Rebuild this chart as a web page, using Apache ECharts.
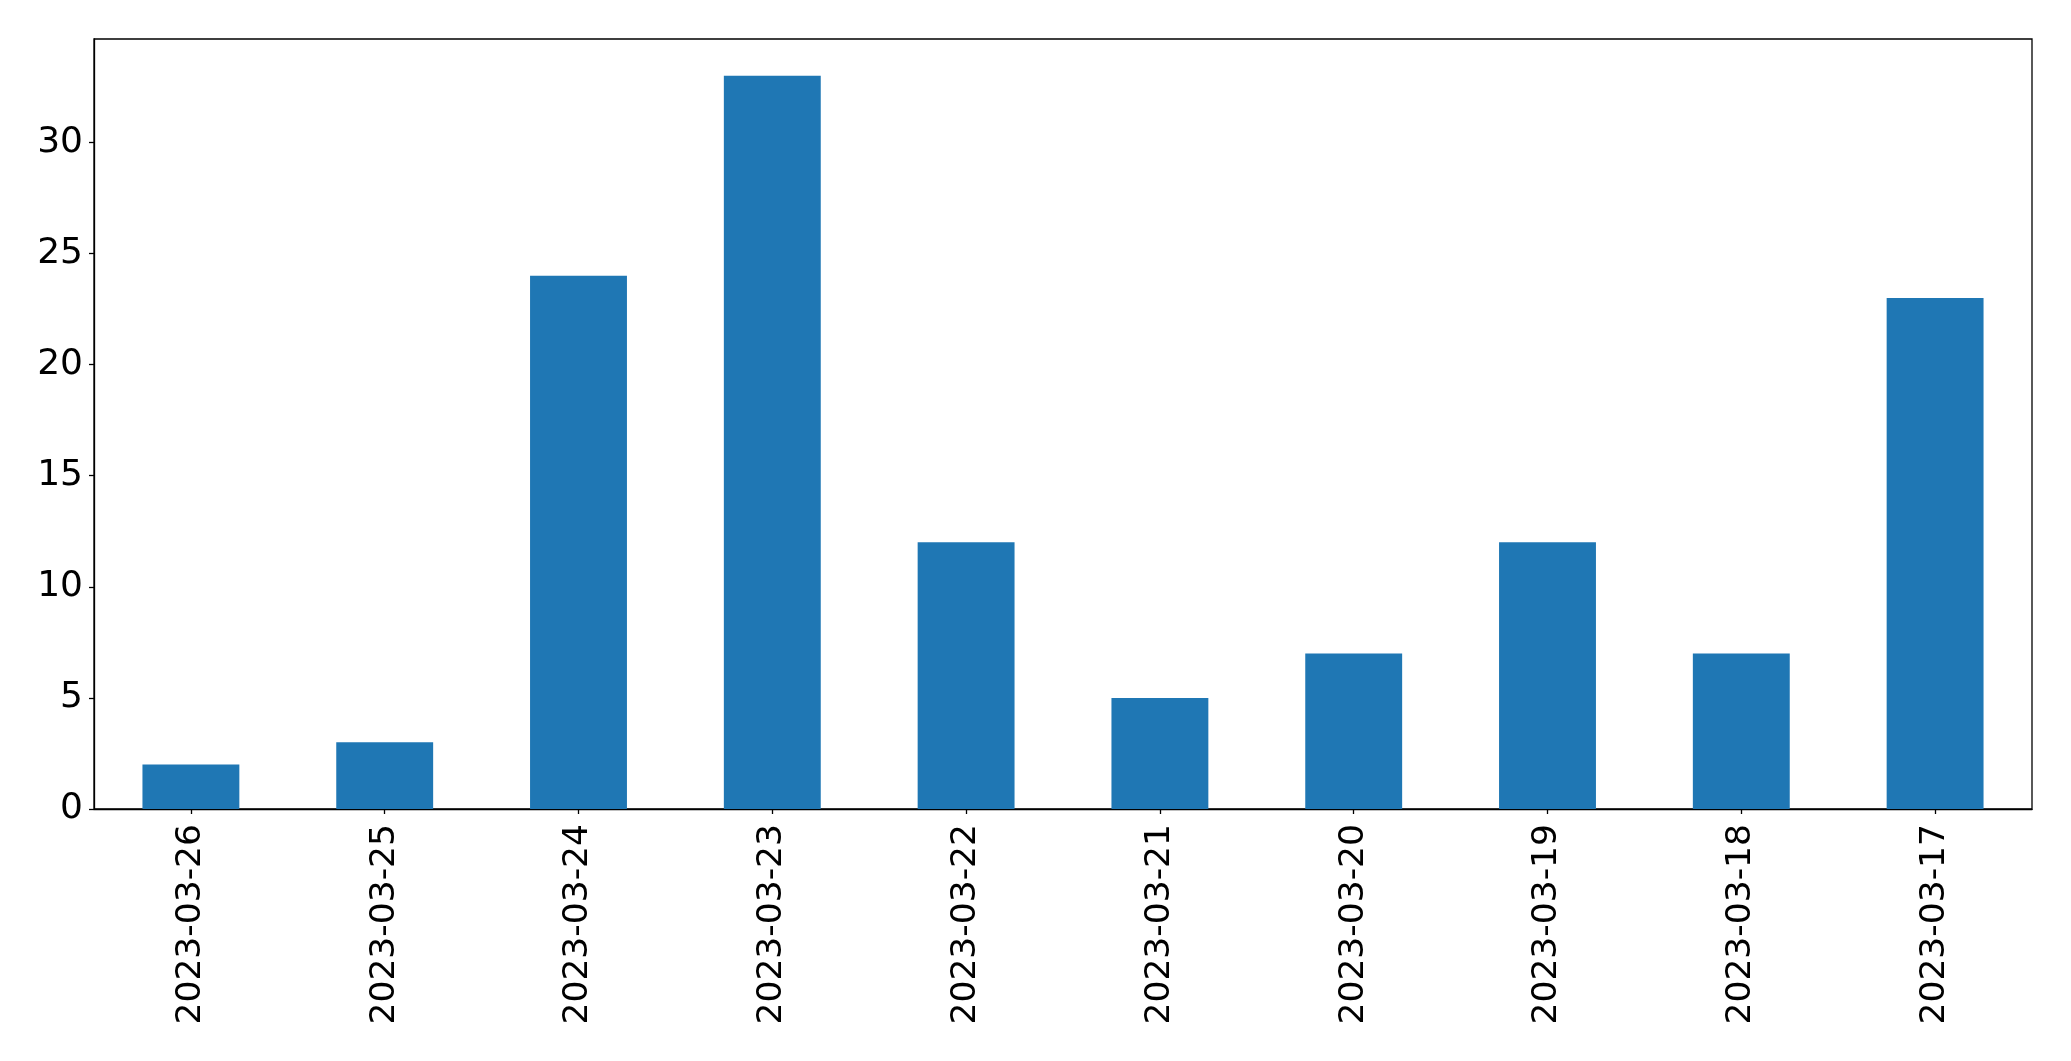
<!DOCTYPE html>
<html><head><meta charset="utf-8">
<script src="https://cdn.jsdelivr.net/npm/echarts@6/dist/echarts.min.js"></script>
<style>html,body{margin:0;padding:0;background:#fff}#c{width:2071px;height:1061px}</style>
</head><body><div id="c"></div>
<script>
const categories = ['2023-03-26','2023-03-25','2023-03-24','2023-03-23','2023-03-22','2023-03-21','2023-03-20','2023-03-19','2023-03-18','2023-03-17'];
const values = [2, 3, 24, 33, 12, 5, 7, 12, 7, 23];
const yTicks = [0, 5, 10, 15, 20, 25, 30];
const yMax = 34.65;

const chart = echarts.init(document.getElementById('c'), null, {renderer: 'canvas'});
chart.setOption({
  animation: false,
  backgroundColor: '#ffffff',
  grid: {left: 94, right: 39, top: 39, bottom: 252, show: true, borderColor: '#000', borderWidth: 1.3, backgroundColor: 'transparent'},
  xAxis: {
    type: 'category', data: categories, boundaryGap: true,
    axisLine: {show: true, lineStyle: {color: '#000', width: 1.3}},
    axisTick: {show: true, alignWithLabel: true, length: 5, lineStyle: {color: '#000', width: 1.3}},
    axisLabel: {rotate: 90, fontSize: 34.5, color: '#000', fontFamily: 'DejaVu Sans', margin: 15, interval: 0},
    splitLine: {show: false}
  },
  yAxis: {
    type: 'value', min: 0, max: yMax, interval: 5,
    axisLine: {show: true, lineStyle: {color: '#000', width: 1.3}},
    axisTick: {show: true, length: 5, customValues: yTicks, lineStyle: {color: '#000', width: 1.3}},
    axisLabel: {fontSize: 36, color: '#000', fontFamily: 'DejaVu Sans', margin: 11, customValues: yTicks},
    splitLine: {show: false}
  },
  series: [{
    type: 'bar', data: values, barWidth: '50%',
    itemStyle: {color: '#1f77b4'}
  }]
});
</script></body></html>
